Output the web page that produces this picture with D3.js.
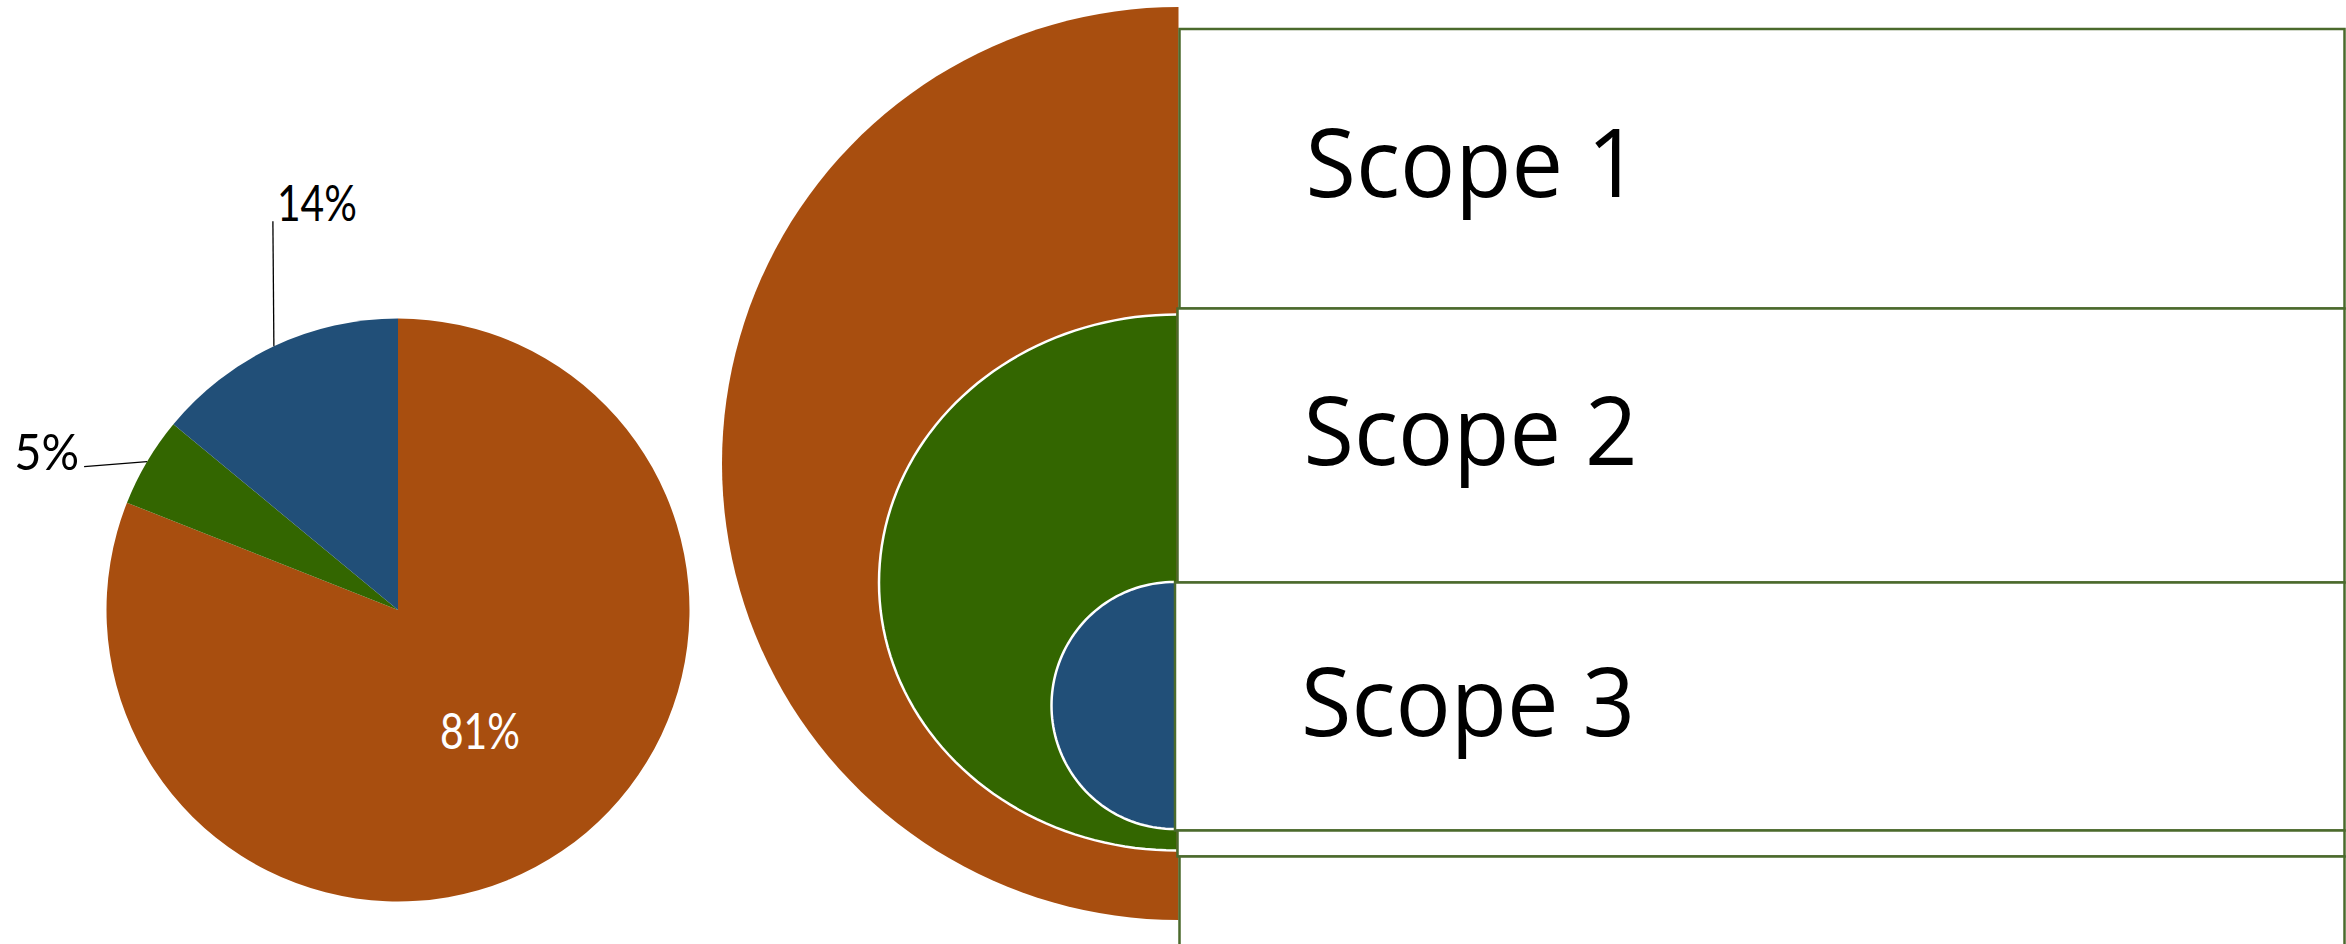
<!DOCTYPE html>
<html>
<head>
<meta charset="utf-8">
<script src="https://cdn.jsdelivr.net/npm/d3@7"></script>
<style>
  html, body { margin: 0; padding: 0; background: #fff; }
  svg { display: block; }
</style>
</head>
<body>
<div id="chart"></div>
<script>
'use strict';

// data
var scopes = ['Scope 1', 'Scope 2', 'Scope 3'];
var shares = [81, 5, 14];

// palette
var palette = ['#A84E0F', '#336600', '#214F78'];
var boxStroke = '#4B6A2C';

var W = 2346, H = 944;

var svg = d3.select('#chart').append('svg')
    .attr('width', W)
    .attr('height', H);

var color = d3.scaleOrdinal().domain(scopes).range(palette);

// ---- pie on the left ----
var pieR = 291.5;
var pieG = svg.append('g').attr('transform', 'translate(398,610)');

var pie = d3.pie().sort(null).value(function(d) { return d.value; });
var arc = d3.arc().innerRadius(0).outerRadius(pieR);
var edge = d3.arc().innerRadius(pieR).outerRadius(pieR);

var slices = pie(scopes.map(function(s, i) { return {scope: s, value: shares[i]}; }));

pieG.selectAll('path.slice')
    .data(slices)
    .enter().append('path')
      .attr('class', 'slice')
      .attr('d', arc)
      .attr('fill', function(d) { return color(d.data.scope); });

// leader offsets for the small slices (layout only)
var leaderOffset = { 'Scope 2': [-63, 5], 'Scope 3': [-1, -125] };

// squeeze the label font a bit, the original face is narrower than Lato
function condense(sel, k) {
  sel.each(function() {
    var len = this.getComputedTextLength();
    d3.select(this).attr('textLength', len * k).attr('lengthAdjust', 'spacingAndGlyphs');
  });
}

slices.forEach(function(d) {
  var txt = d.data.value + '%';
  var k = txt.length > 2 ? 0.8 : 0.92;
  if (d.value >= 50) {
    var c = arc.centroid(d);
    var t = pieG.append('text')
        .attr('x', c[0])
        .attr('y', c[1] + 18)
        .attr('text-anchor', 'middle')
        .attr('fill', '#fff')
        .style('font-family', 'Lato, sans-serif')
        .style('font-size', '51px')
        .text(txt);
    condense(t, k);
  } else {
    var p0 = edge.centroid(d);
    var off = leaderOffset[d.data.scope];
    var p1 = [p0[0] + off[0], p0[1] + off[1]];
    pieG.append('line')
        .attr('x1', p0[0]).attr('y1', p0[1])
        .attr('x2', p1[0]).attr('y2', p1[1])
        .attr('stroke', '#000')
        .attr('stroke-width', 1.3);
    var left = off[0] < -20;
    var t2 = pieG.append('text')
        .attr('x', left ? p1[0] - 5 : p1[0] + 4)
        .attr('y', left ? p1[1] + 3 : p1[1])
        .attr('text-anchor', left ? 'end' : 'start')
        .attr('fill', '#000')
        .style('font-family', 'Lato, sans-serif')
        .style('font-size', '51px')
        .text(txt);
    condense(t2, k);
  }
});

// ---- nested scope diagram on the right ----
var shapes = [
  {scope: scopes[0], cx: 1178.5, cy: 463.5, rx: 456.5, ry: 456.5, outline: false},
  {scope: scopes[1], cx: 1176.5, cy: 582.5, rx: 297.5, ry: 268,   outline: true},
  {scope: scopes[2], cx: 1174,   cy: 705.5, rx: 122.5, ry: 123.5, outline: true}
];

// left half of an ellipse, open on the flat side so the outline skips it
function halfEllipse(s) {
  var p = d3.path();
  p.moveTo(s.cx, s.cy - s.ry);
  var n = 90;
  for (var i = 1; i <= n; i++) {
    var a = Math.PI * i / n;
    p.lineTo(s.cx - s.rx * Math.sin(a), s.cy - s.ry * Math.cos(a));
  }
  return p.toString();
}

svg.append('g').selectAll('path')
    .data(shapes)
    .enter().append('path')
      .attr('d', halfEllipse)
      .attr('fill', function(d) { return color(d.scope); })
      .attr('stroke', function(d) { return d.outline ? '#fff' : 'none'; })
      .attr('stroke-width', 2.5);

// stacked boxes, each abutting the flat edge of a shape
var boxTops = [29, 308.5, 582.5, 830.5, 856.5, 970];
var boxShape = [0, 1, 2, 1, 0];
var boxRight = 2344.5;

var boxes = boxShape.map(function(si, i) {
  return {x0: shapes[si].cx + 1, y0: boxTops[i], y1: boxTops[i + 1], label: scopes[i] || ''};
});

var boxG = svg.append('g');
boxG.selectAll('rect')
    .data(boxes)
    .enter().append('rect')
      .attr('x', function(d) { return d.x0; })
      .attr('y', function(d) { return d.y0; })
      .attr('width', function(d) { return boxRight - d.x0; })
      .attr('height', function(d) { return d.y1 - d.y0; })
      .attr('fill', '#fff')
      .attr('stroke', boxStroke)
      .attr('stroke-width', 2.5);

var baselines = [197, 465, 736];
boxG.selectAll('text')
    .data(boxes.filter(function(d) { return d.label; }))
    .enter().append('text')
      .attr('x', function(d) { return d.x0 + 126; })
      .attr('y', function(d, i) { return baselines[i]; })
      .attr('fill', '#000')
      .style('font-family', '"Open Sans", sans-serif')
      .style('font-size', '95px')
      .text(function(d) { return d.label; })
      .attr('textLength', 334)
      .attr('lengthAdjust', 'spacingAndGlyphs');
</script>
</body>
</html>
